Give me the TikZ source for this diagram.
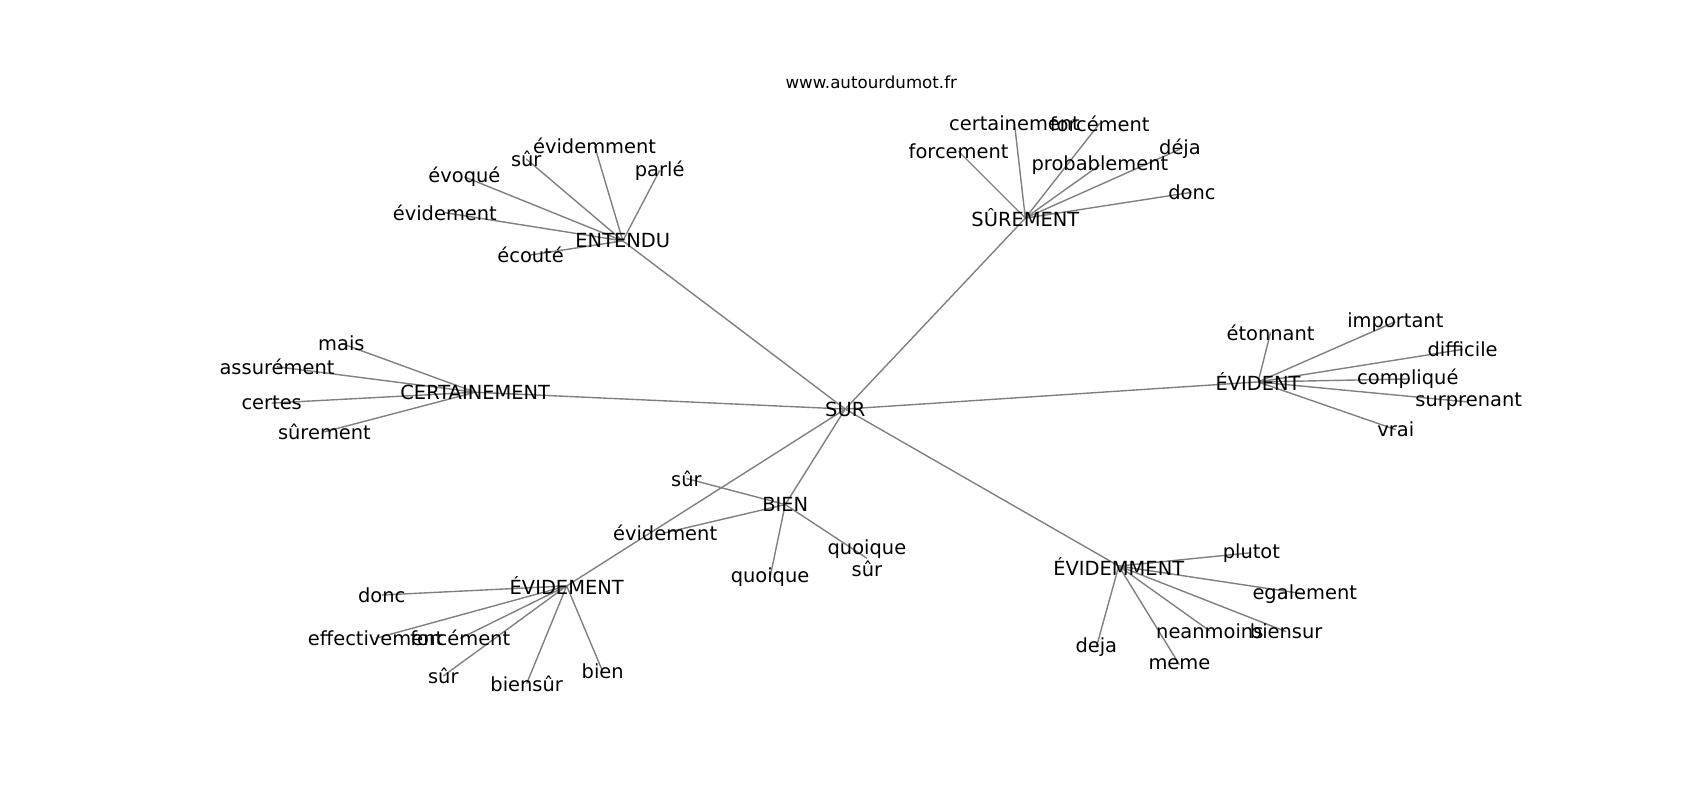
\documentclass[tikz,border=0pt]{standalone}
\usepackage{fontspec}
\setmainfont{DejaVu Sans}
\usetikzlibrary{backgrounds}
\tikzset{
  lbl/.style={inner sep=0pt, outer sep=0pt, anchor=center, text=black, font=\fontsize{9.72}{11}\selectfont},
  ttl/.style={inner sep=0pt, outer sep=0pt, anchor=center, text=black, font=\fontsize{8.33}{10}\selectfont},
  edge/.style={draw=gray, line width=0.7pt}
}
\begin{document}
\begin{tikzpicture}[x=0.5425pt, y=-0.5425pt]
\useasboundingbox (0,0) rectangle (1566.8,737.3);
\node[ttl] (title) at (803,76) {www.autourdumot.fr};
% hubs
\node[lbl] (SUR) at (779,377) {SUR};
\node[lbl] (ENT) at (574,222) {ENTENDU};
\node[lbl] (SURE) at (945,201) {SÛREMENT};
\node[lbl] (EVT) at (1159.5,352) {ÉVIDENT};
\node[lbl] (CERT) at (438,361.5) {CERTAINEMENT};
\node[lbl] (BIEN) at (723.7,465) {BIEN};
\node[lbl] (EVMT) at (522.3,540) {ÉVIDEMENT};
\node[lbl] (EVMM) at (1031.1,521.7) {ÉVIDEMMENT};
% ENTENDU
\node[lbl] (e1) at (548,134.5) {évidemment};
\node[lbl] (e2) at (485,146.5) {sûr};
\node[lbl] (e3) at (608,157) {parlé};
\node[lbl] (e4) at (428,163) {évoqué};
\node[lbl] (e5) at (410,196) {évidement};
\node[lbl] (e6) at (489,235) {écouté};
% SUREMENT
\node[lbl] (s1) at (935,114) {certainement};
\node[lbl] (s2) at (1013.5,113.7) {forcément};
\node[lbl] (s3) at (883.5,139.5) {forcement};
\node[lbl] (s4) at (1013.7,152) {probablement};
\node[lbl] (s5) at (1087.5,137.5) {déja};
\node[lbl] (s6) at (1098.6,177.2) {donc};
% EVIDENT
\node[lbl] (v1) at (1171,306.5) {étonnant};
\node[lbl] (v2) at (1286,296.5) {important};
\node[lbl] (v3) at (1348,322) {difficile};
\node[lbl] (v4) at (1297.5,349.3) {compliqué};
\node[lbl] (v5) at (1353.6,370.5) {surprenant};
\node[lbl] (v6) at (1286.5,396) {vrai};
% CERTAINEMENT
\node[lbl] (c1) at (314.6,316.5) {mais};
\node[lbl] (c2) at (255.3,338) {assurément};
\node[lbl] (c3) at (250.4,371.5) {certes};
\node[lbl] (c4) at (299,398) {sûrement};
% BIEN
\node[lbl] (b1) at (632.6,441) {sûr};
\node[lbl] (b2) at (613,491) {évidement};
\node[lbl] (b3) at (709.7,532) {quoique};
\node[lbl, align=center, font=\fontsize{9.72}{10.9}\selectfont] (b4) at (799,514.5) {quoique\\sûr};
% EVIDEMENT
\node[lbl] (d1) at (351.8,548.4) {donc};
\node[lbl] (d2) at (346.2,588.3) {effectivement};
\node[lbl] (d3) at (424.2,588.3) {forcément};
\node[lbl] (d4) at (408.6,623) {sûr};
\node[lbl] (d5) at (485.4,630) {biensûr};
\node[lbl] (d6) at (555.5,619) {bien};
% EVIDEMMENT
\node[lbl] (m1) at (1153.3,509.4) {plutot};
\node[lbl] (m2) at (1202.5,547.5) {egalement};
\node[lbl] (m3) at (1115,581.5) {neanmoins};
\node[lbl] (m4) at (1185.4,582.2) {biensur};
\node[lbl] (m5) at (1010.4,596.6) {deja};
\node[lbl] (m6) at (1087,612.5) {meme};
\begin{pgfonlayer}{background}
\foreach \h in {ENT,SURE,EVT,CERT,BIEN,EVMT,EVMM} \draw[edge] (SUR.center) -- (\h.center);
\foreach \n in {e1,e2,e3,e4,e5,e6} \draw[edge] (ENT.center) -- (\n.center);
\foreach \n in {s1,s2,s3,s4,s5,s6} \draw[edge] (SURE.center) -- (\n.center);
\foreach \n in {v1,v2,v3,v4,v5,v6} \draw[edge] (EVT.center) -- (\n.center);
\foreach \n in {c1,c2,c3,c4} \draw[edge] (CERT.center) -- (\n.center);
\foreach \n in {b1,b2,b3,b4} \draw[edge] (BIEN.center) -- (\n.center);
\foreach \n in {d1,d2,d3,d4,d5,d6} \draw[edge] (EVMT.center) -- (\n.center);
\foreach \n in {m1,m2,m3,m4,m5,m6} \draw[edge] (EVMM.center) -- (\n.center);
\end{pgfonlayer}
\end{tikzpicture}
\end{document}
